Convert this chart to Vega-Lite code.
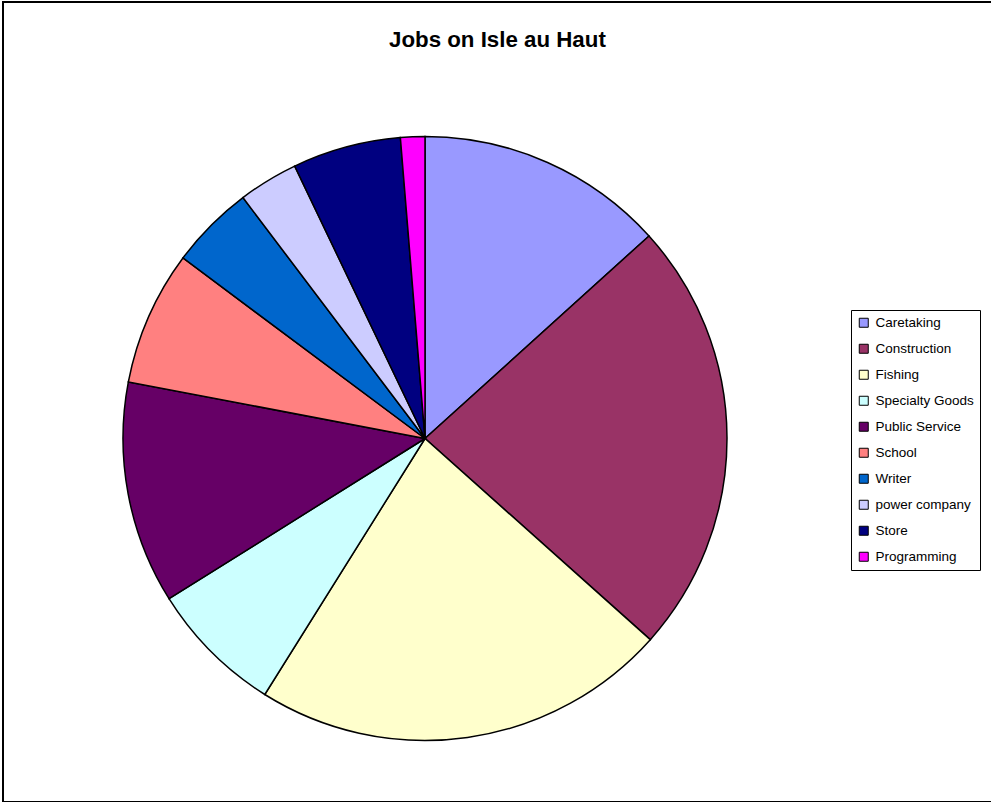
{
  "$schema": "https://vega.github.io/schema/vega-lite/v6.json",
  "autosize": "none",
  "width": 1100,
  "height": 800,
  "padding": {"left": 3, "top": 2, "right": 0, "bottom": 0},
  "background": "white",
  "view": {"stroke": "black", "strokeWidth": 2, "fill": "white"},
  "title": {
    "text": "Jobs on Isle au Haut",
    "anchor": "start",
    "frame": "group",
    "orient": "top",
    "offset": -67,
    "dx": 386,
    "baseline": "alphabetic",
    "font": "Liberation Sans",
    "fontSize": 22.3,
    "fontWeight": "bold",
    "color": "black"
  },
  "config": {
    "font": "Liberation Sans"
  },
  "data": {
    "values": [
      {"job": "Caretaking", "share": 13.3, "rank": 1},
      {"job": "Construction", "share": 23.3, "rank": 2},
      {"job": "Fishing", "share": 22.3, "rank": 3},
      {"job": "Specialty Goods", "share": 7.2, "rank": 4},
      {"job": "Public Service", "share": 11.9, "rank": 5},
      {"job": "School", "share": 7.2, "rank": 6},
      {"job": "Writer", "share": 4.5, "rank": 7},
      {"job": "power company", "share": 3.2, "rank": 8},
      {"job": "Store", "share": 5.8, "rank": 9},
      {"job": "Programming", "share": 1.3, "rank": 10}
    ]
  },
  "mark": {
    "type": "arc",
    "outerRadius": 302,
    "stroke": "black",
    "strokeWidth": 1.5,
    "x": {"expr": "width * 0.38364"},
    "y": {"expr": "height * 0.54563"}
  },
  "encoding": {
    "theta": {"field": "share", "type": "quantitative"},
    "order": {"field": "rank", "type": "quantitative"},
    "color": {
      "field": "job",
      "type": "nominal",
      "scale": {
        "domain": ["Caretaking", "Construction", "Fishing", "Specialty Goods", "Public Service", "School", "Writer", "power company", "Store", "Programming"],
        "range": ["#9999FF", "#993366", "#FFFFCC", "#CCFFFF", "#660066", "#FF8080", "#0066CC", "#CCCCFF", "#000080", "#FF00FF"]
      },
      "legend": {
        "title": null,
        "orient": "none",
        "legendX": 848,
        "legendY": 308,
        "padding": 6,
        "strokeColor": "black",
        "fillColor": "white",
        "symbolType": "square",
        "symbolSize": 81,
        "symbolStrokeColor": "black",
        "symbolStrokeWidth": 1,
        "labelFont": "Liberation Sans",
        "labelFontSize": 13.5,
        "labelColor": "black",
        "labelOffset": 5,
        "rowPadding": 11,
        "labelLimit": 300
      }
    }
  }
}
